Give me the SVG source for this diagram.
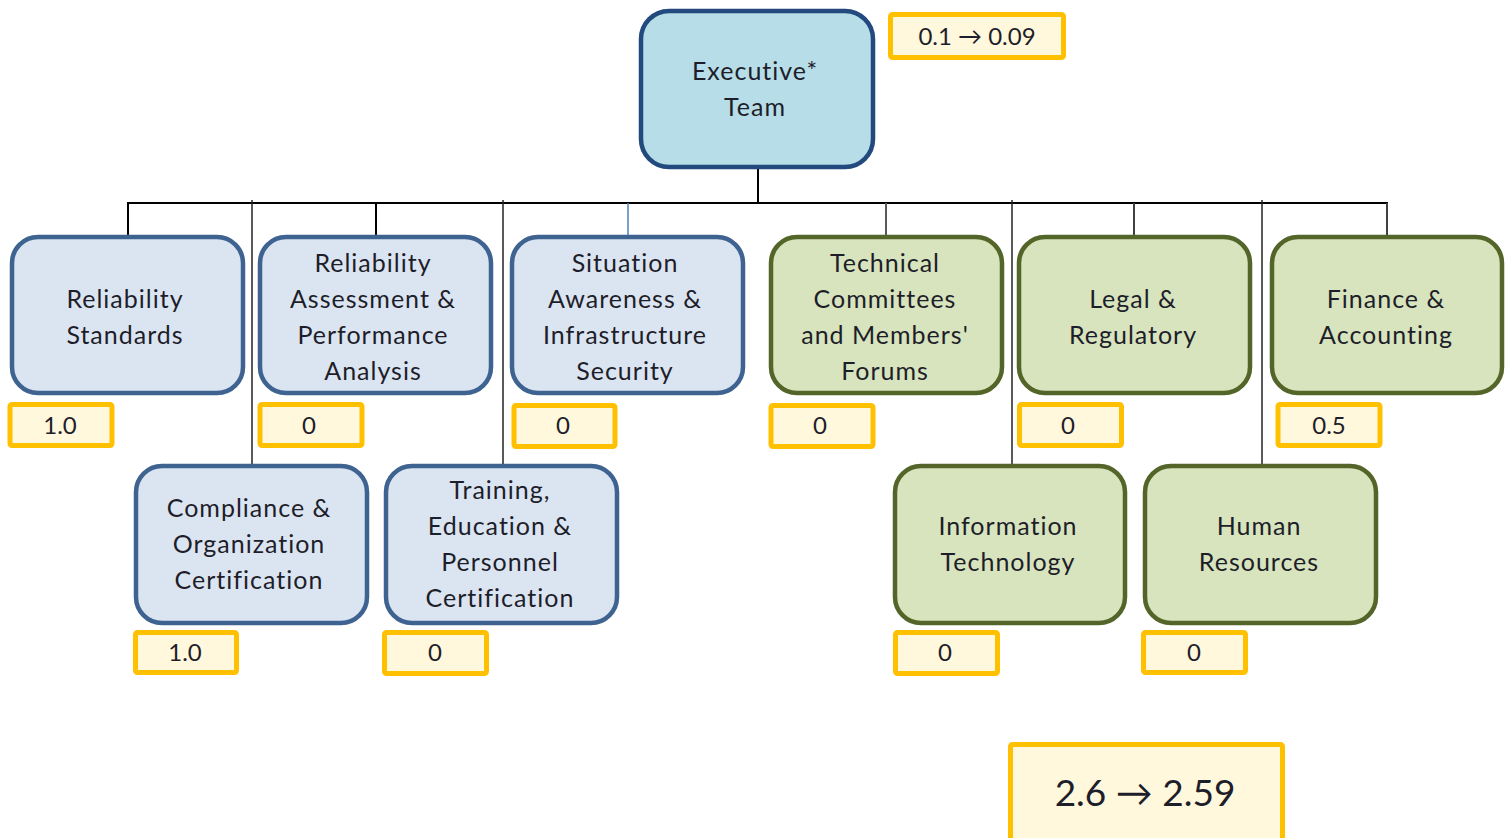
<svg xmlns="http://www.w3.org/2000/svg" width="1511" height="838" viewBox="0 0 1511 838">
<style>
.t{font-family:Lato,"Liberation Sans",sans-serif;font-size:25px;letter-spacing:1px;fill:#1e1e2a;text-anchor:middle}
.n{font-family:Lato,"Liberation Sans",sans-serif;font-size:24px;fill:#1e1e2a;text-anchor:middle}
.blue{fill:#dbe5f1;stroke:#3f6391;stroke-width:4.5}
.green{fill:#d7e4bd;stroke:#536529;stroke-width:4.5}
.exec{fill:#b7dde8;stroke:#234a7e;stroke-width:4.5}
.y{fill:#fff8dc;stroke:#ffc000;stroke-width:5}
.c{stroke:#000;stroke-width:2;fill:none}
</style>
<rect width="1511" height="838" fill="#fff"/>
<g id="connectors">
<line class="c" x1="758" y1="167" x2="758" y2="203" stroke-width="3"/>
<line class="c" x1="127" y1="203" x2="1388" y2="203"/>
<line class="c" x1="128" y1="203" x2="128" y2="238"/>
<line class="c" x1="376" y1="203" x2="376" y2="238"/>
<line x1="628" y1="203" x2="628" y2="238" stroke="#4f81bd" stroke-width="1.5"/>
<line x1="886" y1="203" x2="886" y2="238" stroke="#595959" stroke-width="2"/>
<line x1="1134" y1="203" x2="1134" y2="238" stroke="#404040" stroke-width="2"/>
<line x1="1387" y1="203" x2="1387" y2="238" stroke="#404040" stroke-width="2"/>
<line x1="252" y1="200" x2="252" y2="467" stroke="#222" stroke-width="1.5"/>
<line x1="503" y1="200" x2="503" y2="467" stroke="#222" stroke-width="1.5"/>
<line x1="1012" y1="200" x2="1012" y2="467" stroke="#222" stroke-width="1.5"/>
<line x1="1262" y1="200" x2="1262" y2="467" stroke="#222" stroke-width="1.5"/>
</g>
<g id="executive">
<rect class="exec" x="641" y="11" width="232" height="156" rx="28"/>
<text class="t" x="755" y="80">Executive*</text>
<text class="t" x="755" y="116">Team</text>
</g>
<g id="executive-value">
<rect class="y" x="890.5" y="14.5" width="173" height="43" rx="2"/>
<text class="n" x="977" y="45">0.1 → 0.09</text>
</g>
<g id="reliability-standards">
<rect class="blue" x="12" y="237" width="231" height="156" rx="26"/>
<text class="t" x="125" y="308">Reliability</text>
<text class="t" x="125" y="344">Standards</text>
<rect class="y" x="10" y="404.5" width="102" height="41" rx="2"/>
<text class="n" x="60" y="434">1.0</text>
</g>
<g id="reliability-assessment">
<rect class="blue" x="260" y="237" width="231" height="156" rx="26"/>
<text class="t" x="373" y="272">Reliability</text>
<text class="t" x="373" y="308">Assessment &amp;</text>
<text class="t" x="373" y="344">Performance</text>
<text class="t" x="373" y="380">Analysis</text>
<rect class="y" x="260" y="404.5" width="102" height="41" rx="2"/>
<text class="n" x="309" y="434">0</text>
</g>
<g id="situation-awareness">
<rect class="blue" x="512" y="237" width="231" height="156" rx="26"/>
<text class="t" x="625" y="272">Situation</text>
<text class="t" x="625" y="308">Awareness &amp;</text>
<text class="t" x="625" y="344">Infrastructure</text>
<text class="t" x="625" y="380">Security</text>
<rect class="y" x="514" y="405.5" width="101" height="41" rx="2"/>
<text class="n" x="563" y="434">0</text>
</g>
<g id="technical-committees">
<rect class="green" x="771" y="237" width="231" height="156" rx="26"/>
<text class="t" x="885" y="272">Technical</text>
<text class="t" x="885" y="308">Committees</text>
<text class="t" x="885" y="344">and Members'</text>
<text class="t" x="885" y="380">Forums</text>
<rect class="y" x="771" y="405.5" width="102" height="41" rx="2"/>
<text class="n" x="820" y="434">0</text>
</g>
<g id="legal-regulatory">
<rect class="green" x="1019" y="237" width="231" height="156" rx="26"/>
<text class="t" x="1133" y="308">Legal &amp;</text>
<text class="t" x="1133" y="344">Regulatory</text>
<rect class="y" x="1019.5" y="404.5" width="102" height="41" rx="2"/>
<text class="n" x="1068" y="434">0</text>
</g>
<g id="finance-accounting">
<rect class="green" x="1272" y="237" width="230" height="156" rx="26"/>
<text class="t" x="1386" y="308">Finance &amp;</text>
<text class="t" x="1386" y="344">Accounting</text>
<rect class="y" x="1278" y="404.5" width="102" height="41" rx="2"/>
<text class="n" x="1329" y="434">0.5</text>
</g>
<g id="compliance">
<rect class="blue" x="136" y="466" width="231" height="157" rx="26"/>
<text class="t" x="249" y="517">Compliance &amp;</text>
<text class="t" x="249" y="553">Organization</text>
<text class="t" x="249" y="589">Certification</text>
<rect class="y" x="135.5" y="632.5" width="101" height="40" rx="2"/>
<text class="n" x="185" y="661">1.0</text>
</g>
<g id="training">
<rect class="blue" x="386" y="466" width="231" height="157" rx="26"/>
<text class="t" x="500" y="499">Training,</text>
<text class="t" x="500" y="535">Education &amp;</text>
<text class="t" x="500" y="571">Personnel</text>
<text class="t" x="500" y="607">Certification</text>
<rect class="y" x="384.5" y="632.5" width="102" height="41" rx="2"/>
<text class="n" x="435" y="661">0</text>
</g>
<g id="information-technology">
<rect class="green" x="895" y="466" width="230" height="157" rx="26"/>
<text class="t" x="1008" y="535">Information</text>
<text class="t" x="1008" y="571">Technology</text>
<rect class="y" x="895.5" y="632.5" width="102" height="41" rx="2"/>
<text class="n" x="945" y="661">0</text>
</g>
<g id="human-resources">
<rect class="green" x="1145" y="466" width="231" height="157" rx="26"/>
<text class="t" x="1259" y="535">Human</text>
<text class="t" x="1259" y="571">Resources</text>
<rect class="y" x="1143.5" y="632.5" width="102" height="40" rx="2"/>
<text class="n" x="1194" y="661">0</text>
</g>
<g id="total">
<rect class="y" x="1010.5" y="744.5" width="272" height="110" rx="2"/>
<text class="n" x="1145" y="806" style="font-size:37px">2.6 → 2.59</text>
</g>
</svg>
